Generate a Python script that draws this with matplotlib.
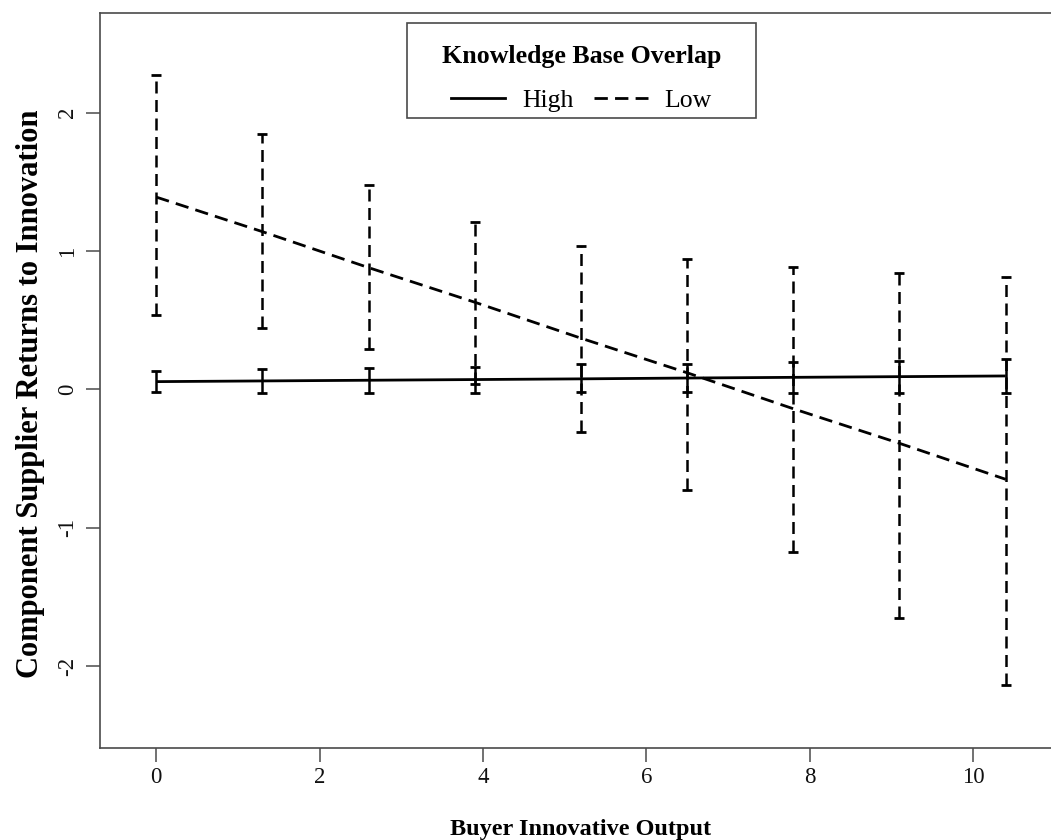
import matplotlib
matplotlib.use("Agg")
import matplotlib.pyplot as plt
from matplotlib.lines import Line2D
from matplotlib.patches import Rectangle

# ---- data ----
buyer_output = [0, 1.3, 2.6, 3.9, 5.2, 6.5, 7.8, 9.1, 10.4]

high_mean = [0.056, 0.061, 0.066, 0.071, 0.076, 0.082, 0.087, 0.092, 0.097]
high_upper = [0.136, 0.146, 0.153, 0.165, 0.182, 0.184, 0.196, 0.208, 0.220]
high_lower = [-0.020, -0.023, -0.023, -0.023, -0.020, -0.022, -0.028, -0.028, -0.028]

low_mean = [1.39, 1.14, 0.88, 0.63, 0.37, 0.12, -0.14, -0.39, -0.65]
low_upper = [2.270, 1.844, 1.478, 1.208, 1.039, 0.945, 0.885, 0.840, 0.811]
low_lower = [0.538, 0.442, 0.290, 0.040, -0.305, -0.726, -1.179, -1.656, -2.140]

x_ticks = [0, 2, 4, 6, 8, 10]
y_ticks = [-2, -1, 0, 1, 2]

legend_title = "Knowledge Base Overlap"
series_labels = ["High", "Low"]
x_label = "Buyer Innovative Output"
y_label = "Component Supplier Returns to Innovation"

# ---- style ----
plt.rcParams['font.family'] = ['Liberation Serif', 'DejaVu Serif']
axis_col = "#4a4a4a"

fig = plt.figure(figsize=(10.51, 8.40), dpi=100)
ax = fig.add_axes([0.0951, 0.1099, 0.9154, 0.8742])

def err(mean, up, lo):
    return [[m - l for m, l in zip(mean, lo)], [u - m for m, u in zip(mean, up)]]

dash = (0, (4.8, 2.6))

# High series
ax.plot(buyer_output, high_mean, color="black", lw=2.0, solid_capstyle="butt")
ax.errorbar(buyer_output, high_mean, yerr=err(high_mean, high_upper, high_lower),
            fmt="none", ecolor="black", elinewidth=1.8, capsize=3.8, capthick=2.0)

# Low series
ax.plot(buyer_output, low_mean, color="black", lw=2.0, linestyle=dash)
eb = ax.errorbar(buyer_output, low_mean, yerr=err(low_mean, low_upper, low_lower),
                 fmt="none", ecolor="black", elinewidth=1.8, capsize=3.4, capthick=2.0)
for coll in eb[2]:
    coll.set_linestyle(dash)

ax.set_xlim(-0.689, 11.09)
ax.set_ylim(-2.59, 2.718)
ax.set_xticks(x_ticks)
ax.set_yticks(y_ticks)
ax.set_yticklabels([str(v) for v in y_ticks], rotation=90, va="center")

for s in ax.spines.values():
    s.set_color(axis_col)
    s.set_linewidth(1.2)
ax.tick_params(axis="both", direction="out", length=10, width=1.1, color=axis_col,
               labelsize=16.5, labelcolor="#111111")
ax.tick_params(axis="x", pad=4)
ax.tick_params(axis="y", pad=6)

ax.set_xlabel(x_label, fontsize=17.5, fontweight="bold")
ax.set_ylabel(y_label, fontsize=22, fontweight="bold")
ax.xaxis.set_label_coords(0.5, -0.097)
ax.yaxis.set_label_coords(-0.057, 0.482)

# legend
handles = [Line2D([], [], color="black", lw=2.0),
           Line2D([], [], color="black", lw=2.0, linestyle=dash)]
leg = ax.legend(handles, series_labels, title=legend_title, ncol=2,
                loc="upper center", bbox_to_anchor=(581.5 / 1051, 1 - 45 / 840),
                bbox_transform=fig.transFigure, frameon=False, fontsize=18.5,
                title_fontproperties={"weight": "bold", "size": 18.6},
                handlelength=2.1, handletextpad=0.65, columnspacing=0.8,
                borderpad=0, borderaxespad=0, labelspacing=0.8)
fig.patches.append(Rectangle((407 / 1051, 1 - 118.3 / 840), 349 / 1051, 95 / 840,
                             transform=fig.transFigure, fill=False,
                             edgecolor=axis_col, linewidth=1.2))

fig.savefig("out.png", dpi=100)
